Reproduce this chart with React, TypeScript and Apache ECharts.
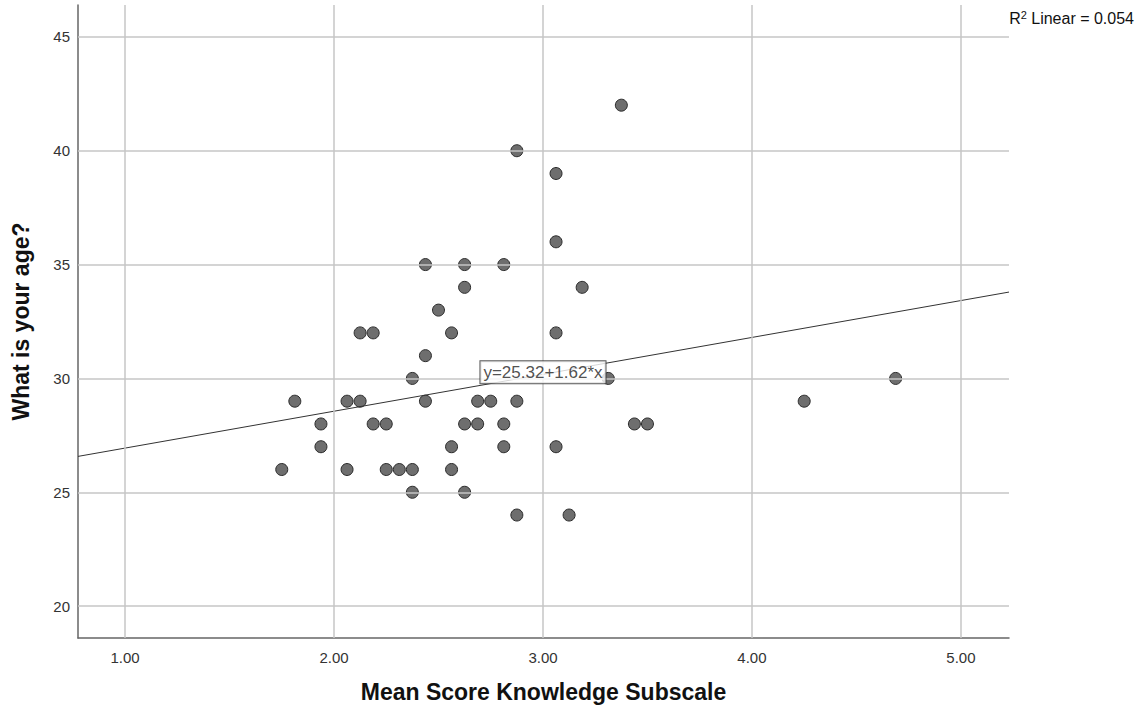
import React, { useEffect, useRef } from "react";
import * as echarts from "echarts";

const knowledgeScores = [
  1.75, 1.8125, 1.9375, 1.9375, 2.0625, 2.0625, 2.125, 2.125, 2.1875, 2.1875,
  2.25, 2.25, 2.3125, 2.375, 2.375, 2.375, 2.4375, 2.4375, 2.4375, 2.5,
  2.5625, 2.5625, 2.5625, 2.625, 2.625, 2.625, 2.625, 2.6875, 2.6875, 2.75,
  2.8125, 2.8125, 2.8125, 2.875, 2.875, 2.875, 3.0625, 3.0625, 3.0625, 3.0625,
  3.125, 3.1875, 3.3125, 3.375, 3.4375, 3.5, 4.25, 4.6875,
];
const ages = [
  26, 29, 28, 27, 29, 26, 32, 29, 32, 28,
  28, 26, 26, 30, 26, 25, 35, 31, 29, 33,
  32, 27, 26, 35, 34, 28, 25, 29, 28, 29,
  35, 28, 27, 40, 29, 24, 39, 36, 32, 27,
  24, 34, 30, 42, 28, 28, 29, 30,
];
const xTickValues = [1, 2, 3, 4, 5];
const yTickValues = [20, 25, 30, 35, 40, 45];
const intercept = 25.32;
const slope = 1.62;
const rSquared = "0.054";
const equationText = "y=25.32+1.62*x";
const xTitle = "Mean Score Knowledge Subscale";
const yTitle = "What is your age?";

const X_MIN = 0.775;
const X_MAX = 5.23;
const Y_MIN = 18.6;
const Y_MAX = 46.4;

const FONT = "'Liberation Sans', Arial, sans-serif";

export default function App() {
  const ref = useRef<HTMLDivElement>(null);

  useEffect(() => {
    if (!ref.current) return;
    const chart = echarts.init(ref.current, undefined, { renderer: "svg" });
    const points = knowledgeScores.map((x, i) => [x, ages[i]]);
    const fitLine = [
      [X_MIN, intercept + slope * X_MIN],
      [X_MAX, intercept + slope * X_MAX],
    ];
    const labelX = 3.0;
    const gridColor = "#c6c6c6";
    const tickRich = { t: { fontFamily: FONT, fontSize: 15, color: "#333" } };

    chart.setOption({
      animation: false,
      backgroundColor: "#ffffff",
      textStyle: { fontFamily: FONT },
      grid: {
        left: 78,
        top: 5,
        width: 931,
        height: 633,
        containLabel: false,
        outerBoundsMode: "none",
      },
      xAxis: {
        type: "value",
        min: X_MIN,
        max: X_MAX,
        name: xTitle,
        nameLocation: "middle",
        nameGap: 42,
        nameTextStyle: { fontFamily: FONT, fontSize: 23, fontWeight: "bold", color: "#111" },
        axisLine: { show: true, onZero: false, lineStyle: { color: "#666", width: 1.5 } },
        axisTick: { show: false },
        splitLine: { show: false },
        axisLabel: {
          customValues: xTickValues,
          formatter: (v: number) => "{t|" + v.toFixed(2) + "}",
          rich: tickRich,
          fontFamily: FONT,
          fontSize: 15,
          color: "#333",
          margin: 12,
        },
      },
      yAxis: {
        type: "value",
        min: Y_MIN,
        max: Y_MAX,
        name: yTitle,
        nameLocation: "middle",
        nameGap: 46,
        nameTextStyle: { fontFamily: FONT, fontSize: 23, fontWeight: "bold", color: "#111" },
        axisLine: { show: true, onZero: false, lineStyle: { color: "#666", width: 1.5 } },
        axisTick: { show: false },
        splitLine: { show: false },
        axisLabel: {
          customValues: yTickValues,
          formatter: (v: number) => "{t|" + String(v) + "}",
          rich: tickRich,
          fontFamily: FONT,
          fontSize: 15,
          color: "#333",
          margin: 8,
        },
      },
      graphic: [
        {
          type: "text",
          right: 13,
          top: 9,
          style: {
            text: "{a|R}{s|2}{a| Linear = " + rSquared + "}",
            rich: {
              a: { fontFamily: FONT, fontSize: 16, fill: "#111" },
              s: { fontFamily: FONT, fontSize: 11, fill: "#111", padding: [0, 0, 8, 0] },
            },
          },
        },
      ],
      series: [
        {
          type: "scatter",
          data: [],
          silent: true,
          z: 1,
          markLine: {
            silent: true,
            symbol: ["none", "none"],
            label: { show: false },
            lineStyle: { color: gridColor, width: 1.5, type: "solid" },
            emphasis: { disabled: true },
            data: [
              ...xTickValues.map((v) => ({ xAxis: v })),
              ...yTickValues.map((v) => ({ yAxis: v })),
            ],
          },
        },
        {
          type: "scatter",
          data: points,
          symbol: "circle",
          symbolSize: 12,
          z: 3,
          itemStyle: { color: "#6e6e6e", borderColor: "#2a2a2a", borderWidth: 1, opacity: 1 },
        },
        {
          type: "line",
          data: fitLine,
          symbol: "none",
          z: 4,
          lineStyle: { color: "#333", width: 1 },
        },
        {
          type: "scatter",
          data: [[labelX, intercept + slope * labelX]],
          symbolSize: 0,
          z: 5,
          label: {
            show: true,
            position: "inside",
            offset: [0, -2],
            formatter: equationText,
            fontFamily: FONT,
            fontSize: 17,
            color: "#222",
            backgroundColor: "#ffffff",
            borderColor: "#333",
            borderWidth: 1,
            padding: [3, 3, 2, 3],
          },
        },
      ],
    });
    return () => chart.dispose();
  }, []);

  return (
    <div
      ref={ref}
      style={{ position: "absolute", left: 0, top: 0, width: 1147, height: 717 }}
    />
  );
}
